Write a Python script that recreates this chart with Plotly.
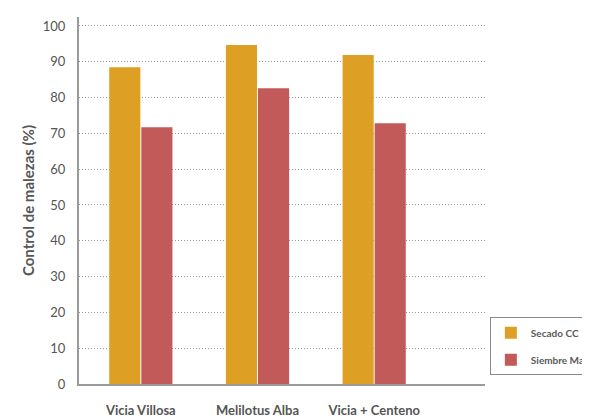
import plotly.graph_objects as go

categories = ["Vicia Villosa", "Melilotus Alba", "Vicia + Centeno"]
secado_cc = [88.5, 94.7, 91.9]
siembre_maiz = [71.7, 82.6, 72.8]
y_ticks = [0, 10, 20, 30, 40, 50, 60, 70, 80, 90, 100]

fig = go.Figure()
fig.add_trace(go.Bar(x=categories, y=secado_cc, name="Secado CC", legendgroup="a",
                     marker=dict(color="#DDA024", line_width=0)))
fig.add_trace(go.Bar(x=categories, y=siembre_maiz, name="Siembre Maíz", legendgroup="b",
                     marker=dict(color="#C15A59", line_width=0)))

# page body has an 8px margin, so the figure is sized to fill the rest of the window
fig.update_layout(
    width=582, height=411,
    margin=dict(l=71, r=105, t=9, b=35, autoexpand=False),
    paper_bgcolor="white", plot_bgcolor="white",
    barmode="group", bargap=0.45, bargroupgap=0.03,
    font=dict(family="Lato", color="#5a5a5a"),
    showlegend=True,
    legend=dict(x=1.012, y=0.182, xanchor="left", yanchor="top",
                bordercolor="#8a8a8a", borderwidth=1, bgcolor="white",
                font=dict(size=10, color="#5a5a5a", family="Lato", weight="bold"),
                itemsizing="constant", tracegroupgap=8, itemwidth=30),
    xaxis=dict(range=[-0.53, 2.95], showline=True, linecolor="#9a9a9a", linewidth=2,
               ticks="outside", ticklen=13, tickcolor="rgba(0,0,0,0)",
               tickfont=dict(size=13, color="#555555", family="Lato", weight="bold"),
               showgrid=False, zeroline=False, automargin=False),
    yaxis=dict(range=[0, 102.5], tickvals=y_ticks, showline=True, linecolor="#9a9a9a",
               linewidth=2, ticks="outside", ticklen=9, tickcolor="rgba(0,0,0,0)",
               tickfont=dict(size=13, color="#555555", family="Lato"),
               showgrid=True, gridcolor="#999999", griddash="1px,2px", gridwidth=1,
               zeroline=False, automargin=False,
               title=dict(text="Control de malezas (%)", standoff=5,
                          font=dict(size=15, color="#555555", family="Lato", weight="bold"))),
)

fig.write_html("out.html")
